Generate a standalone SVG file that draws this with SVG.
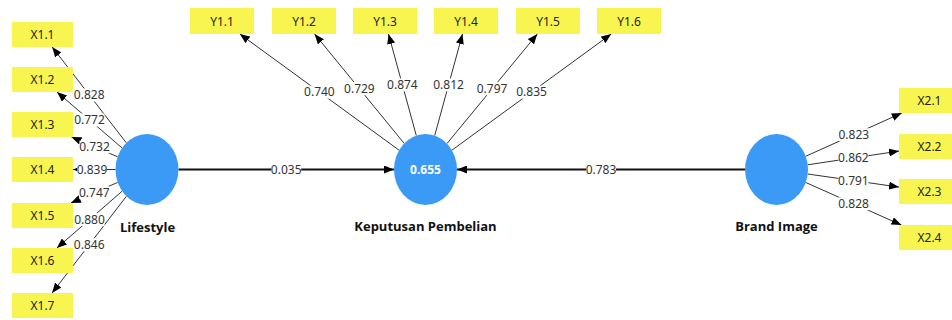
<svg xmlns="http://www.w3.org/2000/svg" width="952" height="320" viewBox="0 0 952 320">
<defs>
<marker id="ah" viewBox="0 0 10 8" refX="10" refY="4" markerWidth="10" markerHeight="8" orient="auto" markerUnits="userSpaceOnUse">
<path d="M0,0 L10,4 L0,8 z" fill="#000"/>
</marker>
<style>
.ind{fill:#F8F550;}
.lv{fill:#3A9AF6;}
.it{font-family:"Noto Sans","Liberation Sans",sans-serif;font-size:12px;fill:#222;text-anchor:middle;}
.nl{font-family:"Open Sans","Noto Sans",sans-serif;font-size:13px;font-weight:bold;fill:#111;text-anchor:middle;}
.r2{font-family:"Open Sans","Noto Sans",sans-serif;font-size:12px;font-weight:bold;fill:#fff;text-anchor:middle;}
.ld{stroke:#333;stroke-width:1;fill:none;marker-end:url(#ah);}
.pth{stroke:#111;stroke-width:2;fill:none;marker-end:url(#ah);}
.lb{fill:#fff;}
.lt{font-family:"Noto Sans","Liberation Sans",sans-serif;font-size:12px;fill:#333;text-anchor:middle;}
</style>
</defs>
<rect width="952" height="320" fill="#fff"/>
<g id="connectors">
<line class="ld" x1="126.3" y1="142.8" x2="52.2" y2="47"/>
<line class="ld" x1="122" y1="147.9" x2="57" y2="92"/>
<line class="ld" x1="117.6" y1="156.8" x2="71.5" y2="137"/>
<line class="ld" x1="115.5" y1="169.5" x2="73" y2="169.5"/>
<line class="ld" x1="117.7" y1="182.4" x2="70.9" y2="203"/>
<line class="ld" x1="122.1" y1="191.2" x2="56.9" y2="248"/>
<line class="ld" x1="126.4" y1="196.3" x2="52.1" y2="293"/>
<line class="ld" x1="399.1" y1="150.2" x2="239.8" y2="34"/>
<line class="ld" x1="404.2" y1="143.4" x2="314.6" y2="34"/>
<line class="ld" x1="416.3" y1="135.6" x2="388.5" y2="34"/>
<line class="ld" x1="434.7" y1="135.6" x2="462.5" y2="34"/>
<line class="ld" x1="447" y1="143.5" x2="537.3" y2="34"/>
<line class="ld" x1="451.9" y1="150.2" x2="611.2" y2="34"/>
<line class="ld" x1="805.7" y1="156.3" x2="901.8" y2="113"/>
<line class="ld" x1="807.7" y1="164.8" x2="899" y2="151.1"/>
<line class="ld" x1="807.8" y1="174" x2="899" y2="187.1"/>
<line class="ld" x1="805.8" y1="182.5" x2="901.4" y2="225"/>
<line class="pth" x1="178.5" y1="169.5" x2="394" y2="169.5"/>
<line class="pth" x1="745" y1="169.5" x2="457" y2="169.5"/>
<g id="connector-labels">
<rect class="lb" x="74" y="88.5" width="30" height="13"/><text class="lt" x="89.2" y="99">0.828</text>
<rect class="lb" x="74.5" y="113.5" width="30" height="13"/><text class="lt" x="89.5" y="124">0.772</text>
<rect class="lb" x="79.5" y="140.5" width="30" height="13"/><text class="lt" x="94.5" y="151">0.732</text>
<rect class="lb" x="77" y="163" width="30" height="13"/><text class="lt" x="92" y="173.5">0.839</text>
<rect class="lb" x="79.3" y="186.2" width="30" height="13"/><text class="lt" x="94.3" y="196.7">0.747</text>
<rect class="lb" x="74.5" y="213.1" width="30" height="13"/><text class="lt" x="89.5" y="223.6">0.880</text>
<rect class="lb" x="74.2" y="238.2" width="30" height="13"/><text class="lt" x="89.2" y="248.7">0.846</text>
<rect class="lb" x="304.4" y="85.6" width="30" height="13"/><text class="lt" x="319.4" y="96.1">0.740</text>
<rect class="lb" x="344.4" y="82.2" width="30" height="13"/><text class="lt" x="359.4" y="92.7">0.729</text>
<rect class="lb" x="387.4" y="78.3" width="30" height="13"/><text class="lt" x="402.4" y="88.8">0.874</text>
<rect class="lb" x="433.6" y="78.3" width="30" height="13"/><text class="lt" x="448.6" y="88.8">0.812</text>
<rect class="lb" x="477.1" y="82.2" width="30" height="13"/><text class="lt" x="492.1" y="92.7">0.797</text>
<rect class="lb" x="516.6" y="85.6" width="30" height="13"/><text class="lt" x="531.6" y="96.1">0.835</text>
<rect class="lb" x="838.8" y="128.2" width="30" height="13"/><text class="lt" x="853.8" y="138.7">0.823</text>
<rect class="lb" x="838.4" y="151.4" width="30" height="13"/><text class="lt" x="853.4" y="161.9">0.862</text>
<rect class="lb" x="838.4" y="174" width="30" height="13"/><text class="lt" x="853.4" y="184.5">0.791</text>
<rect class="lb" x="838.6" y="197.3" width="30" height="13"/><text class="lt" x="853.6" y="207.8">0.828</text>
<rect class="lb" x="271.2" y="163" width="30" height="13"/><text class="lt" x="286.2" y="173.5">0.035</text>
<rect class="lb" x="586" y="163" width="30" height="13"/><text class="lt" x="601" y="173.5">0.783</text>
</g>
</g>
<g id="X1.1"><rect class="ind" x="12" y="22" width="61" height="25"/><text class="it" x="42.5" y="39">X1.1</text></g>
<g id="X1.2"><rect class="ind" x="12" y="67" width="61" height="25"/><text class="it" x="42.5" y="84">X1.2</text></g>
<g id="X1.3"><rect class="ind" x="12" y="112" width="61" height="25"/><text class="it" x="42.5" y="129">X1.3</text></g>
<g id="X1.4"><rect class="ind" x="12" y="157" width="61" height="25"/><text class="it" x="42.5" y="174">X1.4</text></g>
<g id="X1.5"><rect class="ind" x="12" y="203" width="61" height="25"/><text class="it" x="42.5" y="220">X1.5</text></g>
<g id="X1.6"><rect class="ind" x="12" y="248" width="61" height="25"/><text class="it" x="42.5" y="265">X1.6</text></g>
<g id="X1.7"><rect class="ind" x="12" y="293" width="61" height="25"/><text class="it" x="42.5" y="310">X1.7</text></g>
<g id="Y1.1"><rect class="ind" x="190" y="8" width="64" height="26"/><text class="it" x="222" y="25.5">Y1.1</text></g>
<g id="Y1.2"><rect class="ind" x="272" y="8" width="64" height="26"/><text class="it" x="304" y="25.5">Y1.2</text></g>
<g id="Y1.3"><rect class="ind" x="353" y="8" width="64" height="26"/><text class="it" x="385" y="25.5">Y1.3</text></g>
<g id="Y1.4"><rect class="ind" x="434" y="8" width="64" height="26"/><text class="it" x="466" y="25.5">Y1.4</text></g>
<g id="Y1.5"><rect class="ind" x="516" y="8" width="64" height="26"/><text class="it" x="548" y="25.5">Y1.5</text></g>
<g id="Y1.6"><rect class="ind" x="597" y="8" width="64" height="26"/><text class="it" x="629" y="25.5">Y1.6</text></g>
<g id="X2.1"><rect class="ind" x="899" y="88" width="61" height="25"/><text class="it" x="929.5" y="105">X2.1</text></g>
<g id="X2.2"><rect class="ind" x="899" y="134" width="61" height="25"/><text class="it" x="929.5" y="151">X2.2</text></g>
<g id="X2.3"><rect class="ind" x="899" y="179" width="61" height="25"/><text class="it" x="929.5" y="196">X2.3</text></g>
<g id="X2.4"><rect class="ind" x="899" y="225" width="61" height="25"/><text class="it" x="929.5" y="242">X2.4</text></g>
<g id="Lifestyle"><ellipse class="lv" cx="147" cy="169.5" rx="31.5" ry="35.5"/><text class="nl" x="147.5" y="232">Lifestyle</text></g>
<g id="KeputusanPembelian"><ellipse class="lv" cx="425.5" cy="169.5" rx="31.5" ry="35.5"/><text class="r2" x="425.5" y="174">0.655</text><text class="nl" x="425.5" y="231">Keputusan Pembelian</text></g>
<g id="BrandImage"><ellipse class="lv" cx="776.5" cy="169.5" rx="31.5" ry="35.5"/><text class="nl" x="776.5" y="231">Brand Image</text></g>
</svg>
